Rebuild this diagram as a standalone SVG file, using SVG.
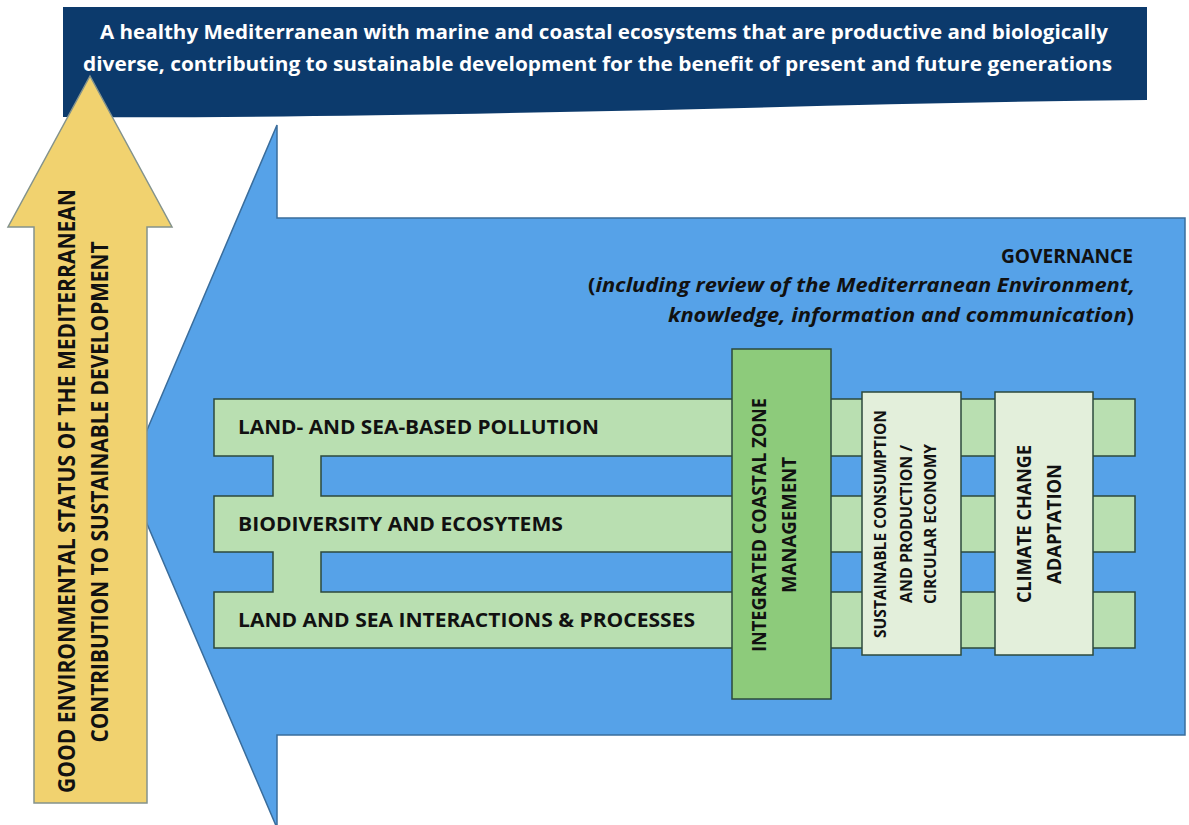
<svg xmlns="http://www.w3.org/2000/svg" width="1189" height="825" viewBox="0 0 1189 825">
<style>
.t{font-family:"Open Sans","Liberation Sans",sans-serif;font-weight:bold;fill:#111}
.w{font-family:"Open Sans","Liberation Sans",sans-serif;font-weight:bold;fill:#fff;font-size:20px}
.box{stroke:#2d4a3c;stroke-width:1.5}
</style>
<rect width="1189" height="825" fill="#fff"/>
<g id="governance-arrow">
<path d="M127,477 L277,125 L277,218 L1185,218 L1185,735 L277,735 L277,828 Z" fill="#56A2E8" stroke="#3a6d9c" stroke-width="1.5"/>
<text class="t" font-size="20" x="1133" y="263" text-anchor="end" textLength="132" lengthAdjust="spacingAndGlyphs">GOVERNANCE</text>
<text class="t" font-size="20" x="1135" y="292" text-anchor="end" textLength="547" lengthAdjust="spacingAndGlyphs">(<tspan font-style="italic">including review of the Mediterranean Environment,</tspan></text>
<text class="t" font-size="20" x="1134" y="322" text-anchor="end" textLength="466" lengthAdjust="spacingAndGlyphs"><tspan font-style="italic">knowledge, information and communication</tspan>)</text>
</g>
<g id="vision-banner">
<path d="M63,7 H1147 V100 C950,102 760,108 560,112 C360,116 200,118 63,117 Z" fill="#0C3A6C"/>
<text class="w" x="100" y="39" textLength="1008" lengthAdjust="spacingAndGlyphs">A healthy Mediterranean with marine and coastal ecosystems that are productive and biologically</text>
<text class="w" x="83" y="71" textLength="1029" lengthAdjust="spacingAndGlyphs">diverse, contributing to sustainable development for the benefit of present and future generations</text>
</g>
<g id="goal-arrow">
<path d="M90,76 L172,227 L147,227 L147,803 L34,803 L34,227 L8,227 Z" fill="#F1D26F" stroke="#84938c" stroke-width="1.5"/>
<text class="t" font-size="23" transform="translate(75,491) rotate(-90)" text-anchor="middle" textLength="604" lengthAdjust="spacingAndGlyphs">GOOD ENVIRONMENTAL STATUS OF THE MEDITERRANEAN</text>
<text class="t" font-size="23" transform="translate(108,492) rotate(-90)" text-anchor="middle" textLength="501" lengthAdjust="spacingAndGlyphs">CONTRIBUTION TO SUSTAINABLE DEVELOPMENT</text>
</g>
<g id="themes">
<path class="box" d="M214,399 H1135 V456 H321 V496 H1135 V552 H321 V592 H1135 V648 H214 V592 H273 V552 H214 V496 H273 V456 H214 Z" fill="#B9DFB1"/>
<text class="t" font-size="20" x="238" y="434" textLength="361" lengthAdjust="spacingAndGlyphs">LAND- AND SEA-BASED POLLUTION</text>
<text class="t" font-size="20" x="238" y="531" textLength="325" lengthAdjust="spacingAndGlyphs">BIODIVERSITY AND ECOSYTEMS</text>
<text class="t" font-size="20" x="238" y="627" textLength="457" lengthAdjust="spacingAndGlyphs">LAND AND SEA INTERACTIONS &amp; PROCESSES</text>
</g>
<g id="iczm">
<rect class="box" x="732" y="349" width="99" height="350" fill="#8DCB7B"/>
<text class="t" font-size="20" transform="translate(766,525) rotate(-90)" text-anchor="middle" textLength="254" lengthAdjust="spacingAndGlyphs">INTEGRATED COASTAL ZONE</text>
<text class="t" font-size="20" transform="translate(796,525) rotate(-90)" text-anchor="middle" textLength="136" lengthAdjust="spacingAndGlyphs">MANAGEMENT</text>
</g>
<g id="scp">
<rect class="box" x="862" y="392" width="99" height="263" fill="#E3EFDB"/>
<text class="t" font-size="16" transform="translate(886,524) rotate(-90)" text-anchor="middle" textLength="228" lengthAdjust="spacingAndGlyphs">SUSTAINABLE CONSUMPTION</text>
<text class="t" font-size="16" transform="translate(912,524) rotate(-90)" text-anchor="middle" textLength="158" lengthAdjust="spacingAndGlyphs">AND PRODUCTION /</text>
<text class="t" font-size="16" transform="translate(936,524) rotate(-90)" text-anchor="middle" textLength="160" lengthAdjust="spacingAndGlyphs">CIRCULAR ECONOMY</text>
</g>
<g id="cca">
<rect class="box" x="995" y="392" width="98" height="263" fill="#E3EFDB"/>
<text class="t" font-size="20" transform="translate(1031,524) rotate(-90)" text-anchor="middle" textLength="158" lengthAdjust="spacingAndGlyphs">CLIMATE CHANGE</text>
<text class="t" font-size="20" transform="translate(1061,524) rotate(-90)" text-anchor="middle" textLength="120" lengthAdjust="spacingAndGlyphs">ADAPTATION</text>
</g>
<g id="connectors"></g>
</svg>
